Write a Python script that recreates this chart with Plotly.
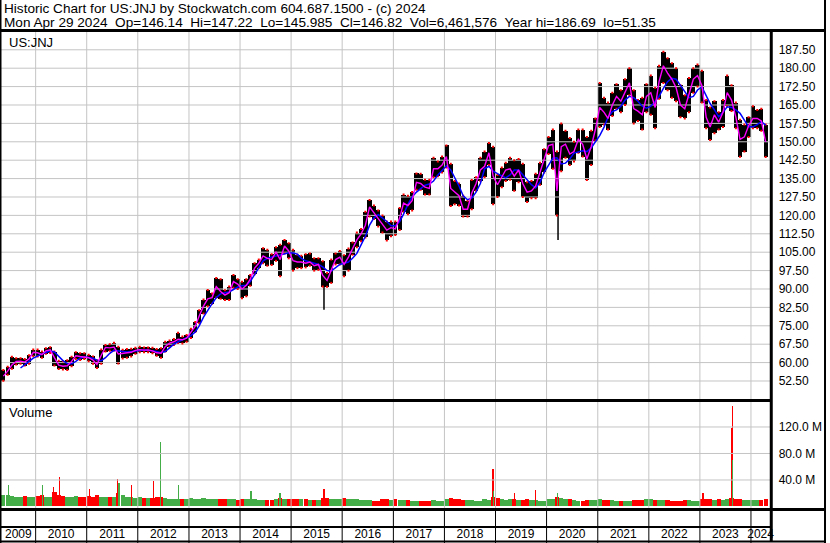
import pandas as pd
import plotly.graph_objects as go

W, H = 830, 543

# ---------------- data (monthly, May 2009 .. Apr 2024) ----------------
month_start = "2009-05-01"
n_months = 180

price_hi = [
    57.0, 58.3, 62.4, 61.8, 61.8, 61.5, 63.0, 65.3,
    65.3, 64.5, 65.8, 66.3, 64.5, 60.8, 60.5, 61.0, 62.4, 64.2, 63.8, 63.8,
    63.2, 62.5, 61.0, 65.3, 67.2, 67.5, 68.1, 66.5, 65.2, 65.5, 65.6, 66.0,
    66.5, 66.2, 66.2, 66.0, 65.5, 65.8, 68.5, 69.0, 69.6, 72.2, 70.6, 71.2,
    73.8, 76.5, 81.3, 85.7, 89.6, 88.2, 94.5, 94.0, 89.5, 91.0, 95.7, 94.0,
    93.0, 94.0, 95.7, 100.5, 102.0, 106.6, 106.0, 104.2, 107.0, 108.0, 110.0, 108.6,
    106.0, 104.0, 103.5, 104.2, 104.5, 102.5, 102.5, 101.3, 96.5, 102.0, 104.5, 105.5,
    103.8, 106.5, 109.0, 113.0, 114.5, 121.5, 126.3, 124.0, 122.0, 120.0, 117.5, 117.5,
    117.5, 123.0, 128.5, 128.0, 129.5, 137.1, 137.0, 134.5, 134.5, 143.5, 142.0, 144.0,
    148.5, 141.0, 134.0, 133.0, 128.0, 126.0, 134.4, 135.5, 143.5, 146.0, 149.5, 148.0,
    136.5, 139.5, 141.5, 143.5, 142.5, 143.0, 141.0, 133.5, 134.0, 137.0, 141.5, 147.0,
    152.0, 155.0, 146.0, 157.5, 154.5, 151.5, 150.0, 155.0, 155.0, 152.0, 154.5, 159.5,
    174.0, 168.0, 166.0, 170.0, 173.5, 171.0, 175.5, 180.0, 171.0, 167.0, 168.0, 173.5,
    177.0, 172.0, 181.0, 186.7, 184.0, 182.0, 180.0, 173.0, 169.0, 176.0, 180.0, 181.5,
    179.0, 167.0, 164.0, 166.5, 162.0, 167.0, 177.0, 173.0, 166.0, 159.0, 157.0, 160.0,
    164.5, 163.0, 163.5, 157.0,
]

price_lo = [
    52.6, 55.0, 57.5, 59.2, 59.5, 58.8, 59.5, 62.6,
    62.5, 62.0, 63.6, 63.9, 58.8, 57.4, 57.2, 57.0, 58.5, 61.5, 61.1, 61.5,
    60.5, 59.5, 57.8, 59.5, 64.5, 64.8, 64.9, 59.6, 61.7, 62.0, 62.5, 63.6,
    64.2, 64.2, 64.2, 63.8, 62.8, 62.0, 64.5, 66.5, 67.2, 68.0, 67.8, 68.5,
    70.0, 72.5, 76.0, 80.0, 83.0, 84.0, 86.5, 86.0, 85.5, 85.5, 90.5, 90.0,
    86.2, 87.0, 91.3, 96.0, 98.5, 100.5, 99.5, 99.8, 101.5, 95.2, 104.5, 102.5,
    97.5, 98.5, 98.5, 98.8, 99.5, 97.5, 97.8, 91.0, 90.9, 92.5, 100.0, 100.0,
    95.2, 97.5, 104.0, 107.0, 109.5, 111.0, 119.5, 118.5, 115.5, 113.0, 109.8, 111.5,
    112.0, 114.0, 121.5, 120.5, 122.0, 130.5, 130.5, 128.5, 128.5, 135.5, 136.0, 137.5,
    139.5, 123.8, 124.5, 124.0, 119.5, 119.5, 122.5, 130.0, 134.0, 135.5, 140.5, 124.5,
    127.5, 131.5, 134.0, 134.5, 130.0, 133.5, 127.5, 125.5, 127.0, 127.0, 132.5, 137.5,
    145.0, 139.0, 120.0, 138.0, 143.5, 140.5, 142.0, 145.5, 144.0, 134.4, 140.5, 150.5,
    156.0, 157.0, 155.0, 160.5, 163.5, 162.0, 165.0, 169.0, 157.5, 158.5, 155.0, 162.0,
    161.0, 155.5, 167.5, 174.0, 171.0, 168.0, 166.5, 160.0, 159.5, 162.0, 170.0, 172.5,
    166.0, 155.5, 150.7, 153.5, 155.0, 156.0, 164.5, 162.5, 155.5, 143.9, 146.0, 152.0,
    155.5, 155.5, 154.5, 143.8,
]

# short moving average (magenta)
ma_short = [
    54.5, 56.5, 59.0, 60.5, 60.6, 60.2, 61.5, 64.2,
    64.0, 63.2, 64.8, 65.2, 62.0, 59.0, 58.5, 58.7, 60.5, 62.8, 62.5, 62.4,
    62.0, 61.0, 59.2, 63.0, 66.2, 66.0, 66.3, 63.5, 63.8, 64.0, 64.2, 65.0,
    65.3, 65.1, 65.2, 64.8, 64.0, 63.8, 66.5, 67.9, 68.5, 69.5, 69.3, 70.0,
    72.5, 74.8, 79.0, 83.0, 86.0, 86.5, 91.0, 89.0, 87.5, 88.5, 93.0, 92.0,
    90.0, 91.5, 94.0, 98.5, 100.5, 103.5, 102.5, 102.0, 105.0, 102.0, 107.5, 105.5,
    101.5, 101.0, 101.0, 100.5, 101.0, 99.5, 100.0, 95.5, 93.5, 98.0, 102.0, 103.0,
    100.0, 103.0, 106.5, 110.0, 112.5, 116.0, 123.5, 121.0, 118.5, 116.0, 114.0, 115.0,
    114.5, 119.0, 125.0, 124.0, 126.0, 133.5, 133.0, 131.5, 131.0, 139.0, 139.0, 140.5,
    144.0, 131.0, 129.5, 128.0, 122.5, 122.5, 129.0, 133.0, 138.5, 140.0, 145.5, 136.0,
    132.5, 136.0, 138.5, 139.0, 136.0, 138.5, 133.0, 129.5, 130.0, 132.0, 137.5, 143.0,
    148.5, 149.0, 130.0, 148.0, 149.0, 145.0, 146.0, 151.0, 149.0, 143.0, 148.0, 155.0,
    164.0, 162.0, 159.5, 165.0, 168.5, 166.5, 170.0, 174.0, 163.5, 162.5, 161.0, 168.5,
    170.0, 164.0, 174.5, 181.0, 178.0, 175.5, 172.0, 165.0, 163.5, 169.0, 175.5, 177.0,
    173.0, 160.0, 156.0, 161.0, 158.0, 162.0, 170.0, 167.0, 160.0, 151.0, 152.0, 156.5,
    159.5, 159.5, 158.5, 150.0,
]

# long moving average (blue)
ma_long = [
    None, None, None, None, 57.8, 59.3, 60.5, 61.8,
    62.8, 63.5, 64.1, 64.8, 64.3, 62.5, 60.8, 59.6, 59.5, 60.5, 61.8, 62.4,
    62.2, 61.8, 61.0, 60.8, 62.0, 63.8, 65.0, 64.8, 64.4, 64.3, 64.5, 64.7,
    65.0, 65.1, 65.0, 64.9, 64.5, 64.0, 64.5, 66.0, 67.5, 68.5, 69.3, 70.0,
    71.0, 72.5, 75.0, 78.5, 81.5, 84.0, 86.5, 88.0, 88.5, 88.8, 89.8, 90.8,
    91.3, 91.5, 93.0, 96.0, 99.0, 101.5, 102.5, 103.0, 103.5, 104.0, 104.6, 104.8,
    104.7, 104.2, 102.5, 101.5, 101.0, 100.5, 100.0, 99.0, 97.5, 97.3, 98.5, 100.0,
    100.5, 101.0, 102.5, 104.5, 108.0, 111.5, 116.0, 119.0, 120.3, 119.0, 117.5, 115.8,
    115.8, 117.5, 120.5, 124.5, 127.5, 129.5, 131.0, 132.3, 132.8, 134.0, 136.5, 138.5,
    140.2, 138.5, 135.5, 132.0, 128.0, 126.4, 127.0, 129.5, 133.0, 139.0, 140.0, 138.0,
    137.0, 136.0, 135.3, 136.5, 138.5, 138.5, 136.5, 134.5, 132.5, 131.2, 133.5, 137.5,
    140.5, 143.3, 143.5, 141.0, 141.3, 143.0, 145.4, 146.0, 146.3, 146.0, 147.5, 150.0,
    152.5, 156.0, 160.0, 162.3, 163.0, 164.5, 167.0, 168.5, 168.0, 166.5, 164.5, 163.7,
    164.5, 166.4, 168.5, 171.8, 174.5, 175.9, 175.5, 173.0, 170.5, 168.0, 168.5, 171.1,
    172.4, 169.0, 165.6, 163.0, 160.2, 162.0, 164.3, 164.0, 163.0, 161.6, 159.0, 156.1,
    156.1, 157.0, 158.2, 156.8,
]

# typical daily volume per month (millions)
volume_m = [
    18, 17, 16, 15, 15, 16, 14, 14,
    16, 17, 15, 15, 22, 18, 16, 15, 15, 16, 15, 14,
    16, 14, 17, 15, 14, 14, 15, 21, 17, 15, 14, 13,
    15, 13, 13, 13, 14, 14, 13, 12, 12, 12, 11, 11,
    13, 12, 12, 13, 12, 12, 11, 11, 11, 11, 11, 10,
    12, 11, 11, 11, 10, 10, 10, 10, 11, 13, 11, 11,
    12, 11, 11, 11, 10, 10, 10, 13, 13, 12, 11, 11,
    13, 12, 11, 11, 10, 10, 10, 9, 9, 11, 11, 10,
    11, 10, 10, 10, 9, 9, 9, 9, 9, 10, 9, 9,
    12, 13, 11, 11, 10, 10, 10, 9, 9, 11, 10, 15,
    13, 11, 10, 11, 12, 10, 10, 11, 10, 10, 9, 9,
    11, 12, 15, 13, 11, 11, 10, 9, 9, 10, 10, 10,
    11, 10, 10, 10, 9, 9, 9, 9, 10, 10, 10, 11,
    11, 10, 10, 10, 10, 9, 9, 9, 10, 10, 9, 9,
    11, 11, 11, 10, 11, 10, 11, 13, 11, 11, 10, 10,
    10, 10, 10, 11,
]

# single-day price extremes
spike_dates = ["2015-08-24", "2020-03-23"]
spike_low = [81.5, 110.0]
spike_high = [92.0, 122.0]

# single-day volume spikes (millions)
vspike_dates = ["2009-06-19", "2010-02-19", "2010-05-06", "2010-06-18", "2011-01-21",
                "2011-08-08", "2011-08-19", "2011-11-18", "2012-04-20", "2012-06-14",
                "2012-10-16", "2014-03-21", "2014-10-14", "2015-08-24", "2018-12-14",
                "2018-12-17", "2019-05-15", "2019-10-15", "2020-03-20", "2023-01-24",
                "2023-08-21", "2023-08-18", "2023-08-16", "2023-08-23"]
vspike_vol = [32, 33, 29, 45, 27, 42, 35, 32, 38, 98, 33, 24, 20, 26, 57, 24, 21, 25, 21, 21,
              151, 119, 89, 70]
vspike_up = [1, 1, 0, 0, 0, 0, 1, 0, 0, 1, 1, 1, 1, 0, 0, 1, 0, 0, 1, 0, 0, 0, 0, 1]

price_ticks = [52.5 + 7.5 * i for i in range(19)]
price_tick_text = ["%.2f" % v for v in price_ticks]
vol_ticks = [40, 80, 120]
vol_tick_text = ["40.0 M", "80.0 M", "120.0 M"]
years = list(range(2009, 2025))

header1 = "Historic Chart for US:JNJ by Stockwatch.com 604.687.1500 - (c) 2024"
header2 = ("Mon Apr 29 2024  Op=146.14  Hi=147.22  Lo=145.985  Cl=146.82  "
           "Vol=6,461,576  Year hi=186.69  lo=51.35")

# ---------------- geometry helpers ----------------
def fx(px):
    return px / W


def fy(py):
    return 1 - py / H


X0, X1 = 1, 774
PRICE_TOP, PRICE_BOT = 32, 399
VOL_TOP, VOL_BOT = 402, 509
STRIP_TOP, STRIP_BOT = 510, 543
x_range = [pd.Timestamp("2009-04-28 08:00"), pd.Timestamp("2024-05-18")]
price_range = [45.16, 194.75]
vol_range = [-3.8, 157.7]

mid = pd.date_range(month_start, periods=n_months, freq="MS") + pd.Timedelta(days=14)
month_ms = 30.4 * 86400000
day_ms = 86400000
year_bounds = [pd.Timestamp(f"{y}-01-01") for y in years[1:]]

red, green = "#ff0000", "#44ad47"
grid = "#c4c4c4"
font = "Liberation Sans, Arial, sans-serif"

fig = go.Figure()


def seg_trace(xs, ys, xa, ya, color, width=1.0):
    return go.Scatter(x=xs, y=ys, mode="lines", line=dict(color=color, width=width),
                      xaxis=xa, yaxis=ya, hoverinfo="skip", connectgaps=False)


def vsegs(xvals, y0s, y1s):
    xs, ys = [], []
    for d, a, b in zip(xvals, y0s, y1s):
        xs += [d, d, None]
        ys += [a, b, None]
    return xs, ys


def hgrid(vals):
    xs, ys = [], []
    for v in vals:
        xs += [x_range[0], x_range[1], None]
        ys += [v, v, None]
    return xs, ys


nb = len(year_bounds)
# grid lines through the axes
fig.add_trace(seg_trace(*vsegs(year_bounds, [price_range[0]] * nb, [price_range[1]] * nb),
                        "x", "y", grid))
fig.add_trace(seg_trace(*hgrid(price_ticks), "x", "y", grid))
fig.add_trace(seg_trace(*vsegs(year_bounds, [vol_range[0]] * nb, [vol_range[1]] * nb),
                        "x2", "y2", grid))
fig.add_trace(seg_trace(*hgrid(vol_ticks), "x2", "y2", grid))
fig.add_trace(seg_trace(*vsegs(year_bounds, [0] * nb, [1] * nb), "x3", "y3", "black"))

# price range bars
fig.add_trace(go.Bar(x=mid, y=[h - l for h, l in zip(price_hi, price_lo)], base=price_lo,
                     width=month_ms, marker=dict(color="black", line=dict(width=0)),
                     xaxis="x", yaxis="y", hoverinfo="skip"))
fig.add_trace(seg_trace(*vsegs(pd.to_datetime(spike_dates), spike_low, spike_high),
                        "x", "y", "black", 1.5))
fig.add_trace(go.Scatter(x=list(mid) + list(mid), y=price_hi + price_lo, mode="markers",
                         marker=dict(color=red, size=2, symbol="square", line=dict(width=0)),
                         xaxis="x", yaxis="y", hoverinfo="skip"))
fig.add_trace(go.Scatter(x=mid, y=ma_long, mode="lines",
                         line=dict(color="#0000ff", width=1.5), xaxis="x", yaxis="y"))
fig.add_trace(go.Scatter(x=mid, y=ma_short, mode="lines",
                         line=dict(color="#ff00ff", width=1.4), xaxis="x", yaxis="y"))

# volume
vol_colors = [green] + [green if ma_short[i] >= ma_short[i - 1] else red
                        for i in range(1, n_months)]
fig.add_trace(go.Bar(x=mid, y=volume_m, width=month_ms,
                     marker=dict(color=vol_colors, line=dict(width=0)),
                     xaxis="x2", yaxis="y2", hoverinfo="skip"))
fig.add_trace(go.Bar(x=pd.to_datetime(vspike_dates), y=vspike_vol, width=9 * day_ms,
                     marker=dict(color=[green if u else red for u in vspike_up],
                                 line=dict(width=0)),
                     xaxis="x2", yaxis="y2", hoverinfo="skip"))

# year label positions: centre of the visible part of each year
label_pos = []
for y in years:
    a = max(pd.Timestamp(f"{y}-01-01"), x_range[0])
    b = min(pd.Timestamp(f"{y + 1}-01-01"), x_range[1])
    label_pos.append(a + (b - a) / 2)
fig.add_trace(go.Scatter(x=label_pos, y=[0.5] * len(years), mode="markers",
                         marker=dict(opacity=0), xaxis="x4", yaxis="y3", hoverinfo="skip"))

xcommon = dict(type="date", range=x_range, domain=[fx(X0), fx(X1)], showline=False,
               zeroline=False, ticks="", fixedrange=True, showgrid=False)
ycommon = dict(side="right", tickmode="array", showgrid=False,
               zeroline=False, showline=False, ticks="outside", ticklen=5,
               tickcolor="rgba(0,0,0,0)", tickfont=dict(size=12, color="black"),
               fixedrange=True)

fig.update_layout(
    width=W, height=H, margin=dict(l=0, r=0, t=0, b=0, pad=0),
    paper_bgcolor="white", plot_bgcolor="rgba(0,0,0,0)", showlegend=False,
    barmode="overlay", bargap=0,
    font=dict(family=font, size=12, color="black"),
    xaxis=dict(**xcommon, anchor="y", showticklabels=False),
    yaxis=dict(**ycommon, domain=[fy(PRICE_BOT), fy(PRICE_TOP)], range=price_range,
               anchor="x", tickvals=price_ticks, ticktext=price_tick_text),
    xaxis2=dict(**xcommon, anchor="y2", showticklabels=False),
    yaxis2=dict(**ycommon, domain=[fy(VOL_BOT), fy(VOL_TOP)], range=vol_range,
                anchor="x2", tickvals=vol_ticks, ticktext=vol_tick_text),
    xaxis3=dict(**xcommon, anchor="y3", showticklabels=False),
    xaxis4=dict(**xcommon, anchor="y3", overlaying="x3",
                tickmode="array", tickvals=label_pos, ticktext=[str(y) for y in years],
                ticklabelposition="inside", ticklabeloverflow="allow",
                tickfont=dict(size=12, color="black")),
    yaxis3=dict(domain=[max(0.0, fy(STRIP_BOT)), fy(STRIP_TOP)], range=[0, 1], anchor="x3",
                showgrid=False, showticklabels=False, zeroline=False, ticks=""),
)

annos = [
    dict(text=header1, x=fx(3), y=fy(0), size=13.6),
    dict(text=header2, x=fx(3), y=fy(14), size=13.6),
    dict(text="US:JNJ", x=fx(8), y=fy(34), size=13),
    dict(text="Volume", x=fx(8), y=fy(404), size=13),
]
for a in annos:
    s = a.pop("size")
    a.update(xref="paper", yref="paper", showarrow=False, xanchor="left", yanchor="top",
             borderpad=0, font=dict(family=font, size=s, color="black"))
fig.update_layout(annotations=annos)


def hline(py, x0, x1, w):
    return dict(type="line", xref="paper", yref="paper", x0=fx(x0), x1=fx(x1),
                y0=fy(py), y1=fy(py), line=dict(color="black", width=w))


def vline(px, y0, y1, w):
    return dict(type="line", xref="paper", yref="paper", x0=fx(px), x1=fx(px),
                y0=fy(y0), y1=fy(y1), line=dict(color="black", width=w))


shapes = [
    vline(0.75, 0, 543, 1.5),
    vline(829, 0, 543, 2),
    hline(30.5, 0, 830, 3),
    vline(775, 31, 542, 3),
    hline(400.5, 0, 775, 3),
    hline(509.5, 0, 830, 3),
    hline(527, 0, 775, 2),
    hline(541.5, 0, 830, 2),
]
fig.update_layout(shapes=shapes)

fig.write_html("out.html", config={"displayModeBar": False, "staticPlot": True},
               post_script="document.body.style.margin='0px';")
